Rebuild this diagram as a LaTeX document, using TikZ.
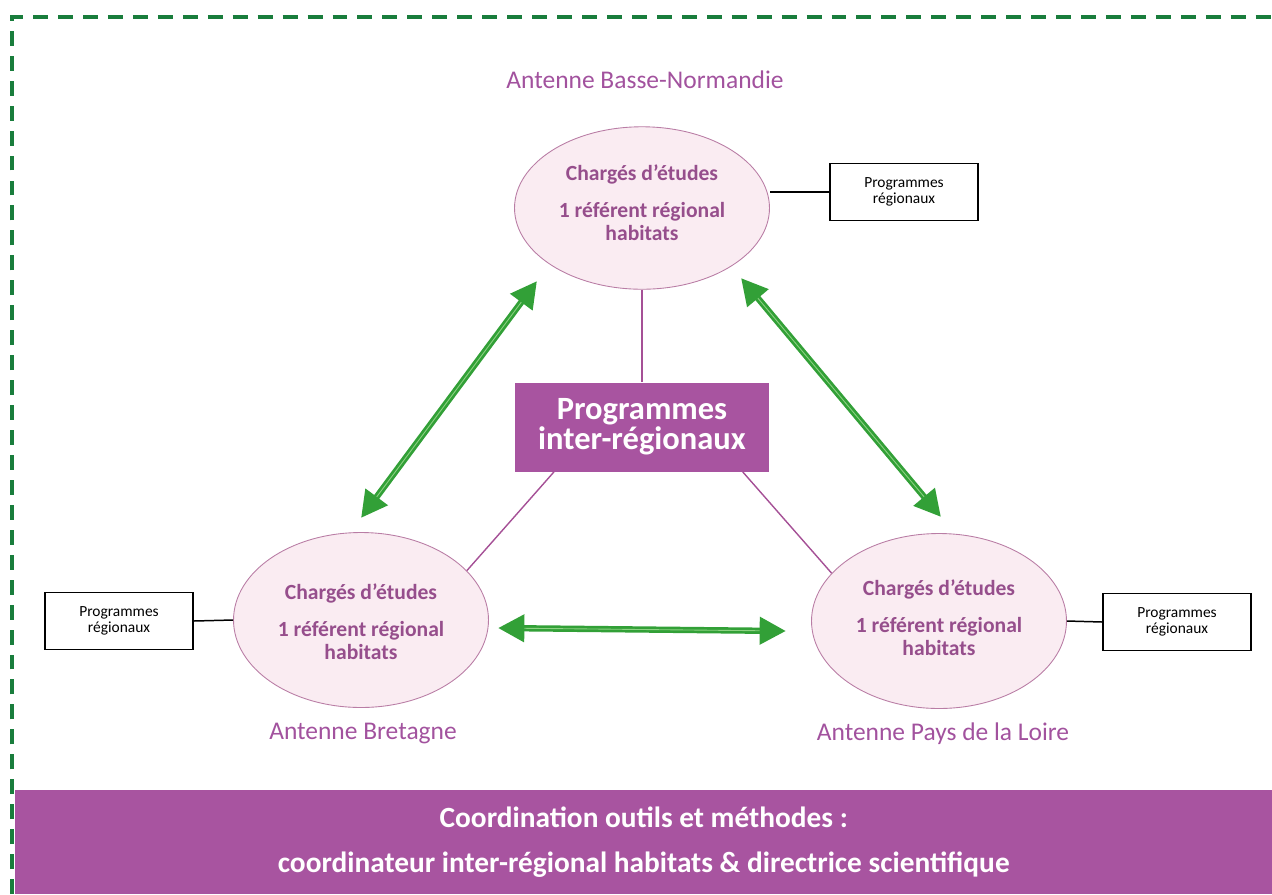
\documentclass[tikz,border=0pt]{standalone}
\usepackage{fontspec}
\setmainfont{Carlito}
\usetikzlibrary{shapes.geometric,arrows.meta}
\definecolor{bandpurple}{RGB}{168,84,160}
\definecolor{labpurple}{RGB}{162,82,158}
\definecolor{elltext}{RGB}{150,78,140}
\definecolor{ellfill}{RGB}{250,236,242}
\definecolor{elldraw}{RGB}{185,125,165}
\definecolor{linkpurple}{RGB}{165,80,150}
\definecolor{arrowgreen}{RGB}{50,160,55}
\definecolor{stripegreen}{RGB}{140,210,130}
\definecolor{bordergreen}{RGB}{25,125,60}
\begin{document}
\begin{tikzpicture}[x=0.02cm,y=-0.02cm,
  antenna/.style={ellipse, draw=elldraw, line width=0.5pt, fill=ellfill,
    minimum width=5.1cm, minimum height=3.5cm, inner sep=0pt},
  elltxt/.style={align=center, text=elltext, font=\bfseries\fontsize{12.3}{13}\selectfont, inner sep=0pt},
  antlabel/.style={text=labpurple, font=\fontsize{14.5}{16}\selectfont, inner sep=0pt},
  progbox/.style={draw=black, line width=0.85pt, fill=white, minimum width=2.96cm,
    minimum height=1.14cm, align=center, font=\fontsize{8.8}{9}\selectfont, inner sep=0pt},
  interbox/.style={fill=bandpurple, minimum width=5.08cm, minimum height=1.78cm,
    align=center, text=white, font=\bfseries\fontsize{18.5}{17}\selectfont, inner sep=0pt},
  link/.style={linkpurple, line width=0.8pt},
  blink/.style={black, line width=0.85pt},
  garrow/.style={arrowgreen, line width=3.6pt,
    {Triangle[length=15pt,width=15pt]}-{Triangle[length=15pt,width=15pt]}},
  stripe/.style={stripegreen, line width=0.5pt, shorten <=15pt, shorten >=15pt},
  frame/.style={bordergreen, line width=2.1pt, dash pattern=on 8.5pt off 5.7pt}
]
\useasboundingbox (0,0) rectangle (1272,894);

% bottom banner
\node[fill=bandpurple, minimum width=25.14cm, minimum height=2.08cm, inner sep=0pt,
  anchor=north west, align=center, text=white,
  font=\bfseries\fontsize{16.7}{25.5}\selectfont] (band) at (15,790)
  {Coordination outils et méthodes :\\coordinateur inter-régional habitats \& directrice scientifique};

% dashed frame
\draw[frame] (12,894) -- (12,17) -- (1272,17);

% antennas
\node[antenna, minimum height=3.25cm] (top) at (642,208) {};
\node[antenna] (left) at (361,620) {};
\node[antenna] (right) at (939,621) {};

\node[elltxt] (toptxt) at (642,203) {Chargés d’études\\[8pt]1 référent régional\\habitats};
\node[elltxt] (lefttxt) at (361,622) {Chargés d’études\\[8pt]1 référent régional\\habitats};
\node[elltxt] (righttxt) at (939,618) {Chargés d’études\\[8pt]1 référent régional\\habitats};

\node[antlabel] (toplab) at (645,80) {Antenne Basse-Normandie};
\node[antlabel] (leftlab) at (363,734) {Antenne Bretagne};
\node[antlabel] (rightlab) at (943,734) {Antenne Pays de la Loire};

% central box
\node[interbox] (inter) at (642,427) {Programmes\\inter-régionaux};

% regional programme boxes
\node[progbox] (tbox) at (904,192) {Programmes\\régionaux};
\node[progbox] (lbox) at (119,621) {Programmes\\régionaux};
\node[progbox] (rbox) at (1177,622) {Programmes\\régionaux};

\draw[blink] (tbox.west) -- (tbox.west -| top.east);
\draw[blink] (lbox.east) -- (left.west);
\draw[blink] (rbox.west) -- (right.east);

% purple links
\draw[link] (top.south) -- (inter.north);
\draw[link] (inter.207) -- (left.25);
\draw[link] (inter.336) -- (right.156);

% green arrows
\coordinate (la1) at (537,281);
\coordinate (la2) at (361,518);
\coordinate (ra1) at (741,278);
\coordinate (ra2) at (941,517);
\coordinate (ba1) at (498,628);
\coordinate (ba2) at (786,631);
\draw[garrow] (la1) -- (la2);
\draw[stripe] (la1) -- (la2);
\draw[garrow] (ra1) -- (ra2);
\draw[stripe] (ra1) -- (ra2);
\draw[garrow] (ba1) -- (ba2);
\draw[stripe] (ba1) -- (ba2);
\end{tikzpicture}
\end{document}
